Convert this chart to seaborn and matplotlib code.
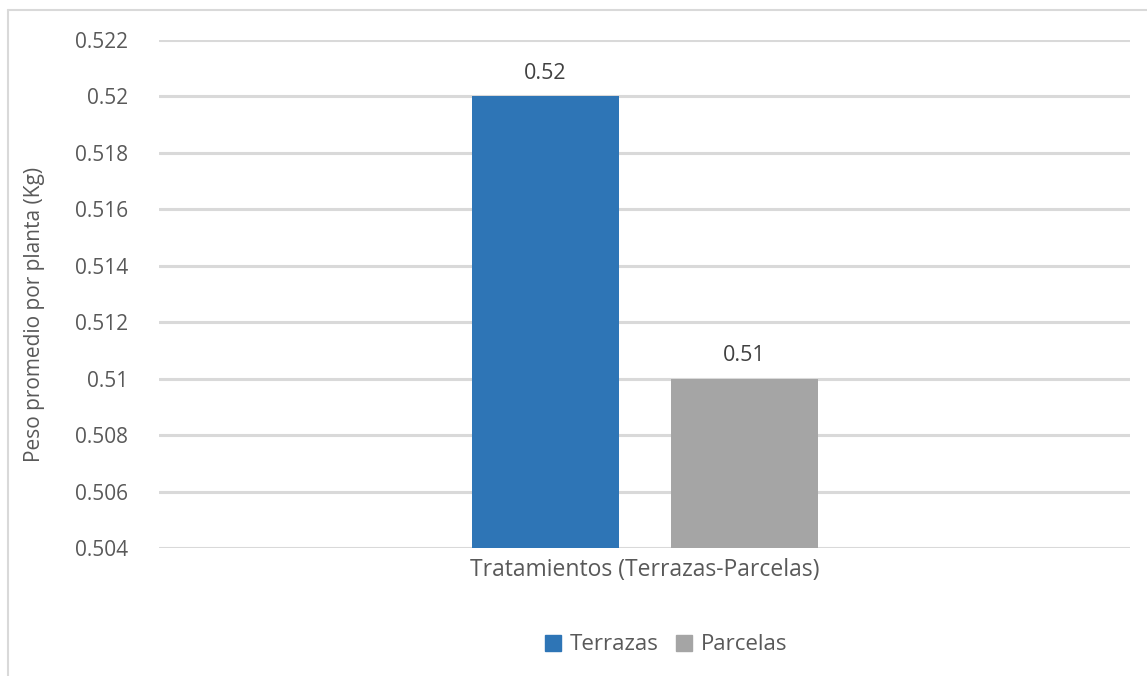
import matplotlib
matplotlib.use("Agg")
import matplotlib.pyplot as plt
from matplotlib.lines import Line2D
import seaborn as sns
import pandas as pd

# Data
categoria = ["Tratamientos (Terrazas-Parcelas)", "Tratamientos (Terrazas-Parcelas)"]
series = ["Terrazas", "Parcelas"]
peso = [0.52, 0.51]
colores = ["#2E75B6", "#A5A5A5"]
yticks = [0.504, 0.506, 0.508, 0.510, 0.512, 0.514, 0.516, 0.518, 0.520, 0.522]
ytick_labels = ["0.504", "0.506", "0.508", "0.51", "0.512", "0.514", "0.516", "0.518", "0.52", "0.522"]

df = pd.DataFrame({"Tratamiento": categoria, "Serie": series, "Peso": peso})

sns.set_theme(style="white")
plt.rcParams["font.family"] = ["Open Sans", "DejaVu Sans"]
text_color = "#595959"
fs = 15

fig = plt.figure(figsize=(11.47, 6.76), dpi=100)
ax = fig.add_axes([159 / 1147, 1 - 548 / 676, (1130 - 159) / 1147, (548 - 40) / 676])

sns.barplot(data=df, x="Tratamiento", y="Peso", hue="Serie", hue_order=series,
            palette=colores, width=0.8, gap=0.26, saturation=1, ax=ax,
            legend=False, errorbar=None, linewidth=0)

ax.set_ylim(0.504, 0.522)
ax.set_xlim(-0.977, 0.975)
ax.set_yticks(yticks)
ax.set_yticklabels(ytick_labels)
ax.yaxis.grid(True, color="#D9D9D9", linewidth=2.2)
ax.set_axisbelow(True)
for s in ax.spines.values():
    s.set_visible(False)
ax.tick_params(axis="both", length=0, labelsize=fs, colors=text_color)
ax.tick_params(axis="y", pad=22)
ax.tick_params(axis="x", pad=7, labelsize=16.5)

ax.set_xlabel("")
ax.set_ylabel("Peso promedio por planta (Kg)", fontsize=fs, color=text_color)
ax.yaxis.set_label_coords(-0.117, 0.46)

for cont in ax.containers:
    ax.bar_label(cont, labels=[f"{v:.2f}" for v in cont.datavalues],
                 padding=9, fontsize=15.5, color="#404040")

handles = [Line2D([0], [0], marker="s", linestyle="none", markersize=12,
                  markerfacecolor=c, markeredgecolor=c) for c in colores]
fig.legend(handles, series, loc="center", bbox_to_anchor=(665 / 1147, 1 - 645 / 676),
           ncol=2, frameon=False, fontsize=16, labelcolor=text_color,
           handletextpad=0.3, columnspacing=0.7, handlelength=0.9)

# Chart-area border (left and top edges)
fig.add_artist(Line2D([8 / 1147, 8 / 1147], [0, 1 - 10 / 676], transform=fig.transFigure,
                      color="#D9D9D9", linewidth=1.5))
fig.add_artist(Line2D([8 / 1147, 1], [1 - 10 / 676, 1 - 10 / 676], transform=fig.transFigure,
                      color="#D9D9D9", linewidth=1.5))

fig.savefig("out.png", dpi=100, facecolor="white")
